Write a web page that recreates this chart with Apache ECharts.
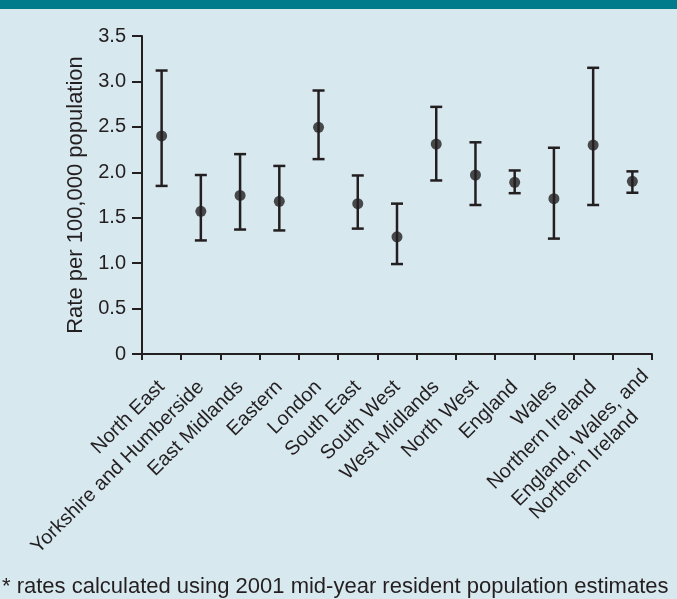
<!DOCTYPE html>
<html><head><meta charset="utf-8">
<script src="https://cdn.jsdelivr.net/npm/echarts@6/dist/echarts.min.js"></script>
<style>html,body{margin:0;padding:0;background:#d8e8ef;}#c{width:677px;height:599px;}</style>
</head><body><div id="c"></div>
<script>
const categories = ["North East","Yorkshire and Humberside","East Midlands","Eastern","London","South East","South West","West Midlands","North West","England","Wales","Northern Ireland","England, Wales, and\nNorthern Ireland"];
const rates = [2.40,1.57,1.745,1.68,2.495,1.655,1.29,2.31,1.97,1.89,1.71,2.30,1.90];
const lower = [1.85,1.25,1.37,1.36,2.145,1.38,0.99,1.91,1.64,1.77,1.27,1.64,1.775];
const upper = [3.12,1.97,2.20,2.07,2.90,1.965,1.655,2.72,2.33,2.02,2.27,3.15,2.01];
const yTicks = [0,0.5,1.0,1.5,2.0,2.5,3.0,3.5];

const ink = '#231f20';
const FF = '"Liberation Sans", Arial, sans-serif';
const LABEL_MARGIN = 30;
const chart = echarts.init(document.getElementById('c'));
const baseGraphics = [
  {id:'band', type:'rect', left:0, top:0, shape:{width:677, height:9}, style:{fill:'#007b8c'}},
  {id:'foot', type:'text', left:2, top:576, style:{text:'* rates calculated using 2001 mid-year resident population estimates', font:'22px ' + FF, fill:ink}}
];
chart.setOption({
  backgroundColor: '#d8e8ef',
  animation: false,
  textStyle: {fontFamily: FF},
  graphic: baseGraphics,
  grid: {left:142, right:25, top:36, bottom:245},
  xAxis: {
    type:'category', data:categories, boundaryGap:true,
    axisLine:{lineStyle:{color:ink, width:2}},
    axisTick:{show:true, length:6, alignWithLabel:false, interval:0, lineStyle:{color:ink, width:2}},
    axisLabel:{
      interval:0, rotate:45, fontSize:20, color:ink, margin:LABEL_MARGIN, fontFamily:FF,
      formatter: function(v){ return v.indexOf('\n') >= 0 ? '' : v; }
    }
  },
  yAxis: {
    type:'value', min:0, max:3.5, interval:0.5,
    name:'Rate per 100,000 population', nameLocation:'middle', nameGap:54,
    nameTextStyle:{fontSize:22, color:ink, fontFamily:FF},
    splitLine:{show:false},
    axisLine:{show:true, lineStyle:{color:ink, width:2}},
    axisTick:{show:true, length:10, lineStyle:{color:ink, width:2}},
    axisLabel:{fontSize:20, color:ink, margin:16, fontFamily:FF, formatter:v=> v===0?'0':v.toFixed(1)}
  },
  series: [
    {
      type:'custom',
      data: categories.map((c,i)=>[i, lower[i], upper[i]]),
      renderItem: function(params, api){
        const x = api.value(0);
        const lo = api.coord([x, api.value(1)]);
        const hi = api.coord([x, api.value(2)]);
        const hw = 6;
        const st = {stroke: ink, lineWidth: 2.5};
        return {type:'group', children:[
          {type:'line', shape:{x1:lo[0], y1:lo[1], x2:hi[0], y2:hi[1]}, style:st},
          {type:'line', shape:{x1:lo[0]-hw, y1:lo[1], x2:lo[0]+hw, y2:lo[1]}, style:st},
          {type:'line', shape:{x1:hi[0]-hw, y1:hi[1], x2:hi[0]+hw, y2:hi[1]}, style:st}
        ]};
      },
      z: 2
    },
    {
      type:'scatter', data: rates, symbol:'circle', symbolSize:11,
      itemStyle:{color:ink}, z:3
    }
  ]
});
// Two-line label for the last category, placed from the axis scale
(function(){
  const idx = categories.length - 1;
  const lines = categories[idx].split('\n');
  const cx = chart.convertToPixel({xAxisIndex:0}, idx);
  const ay = chart.convertToPixel({yAxisIndex:0}, 0) + LABEL_MARGIN;
  const offs = [[13,-11],[3,30]];
  const extra = lines.map((t,i)=>({
    id:'ml'+i, type:'text', x: cx + offs[i][0], y: ay + offs[i][1], rotation: Math.PI/4,
    style:{text:t, font:'20px ' + FF, fill:ink, align:'right', verticalAlign:'middle', textAlign:'right', textVerticalAlign:'middle'}
  }));
  chart.setOption({graphic: baseGraphics.concat(extra)});
})();
</script>
</body></html>
